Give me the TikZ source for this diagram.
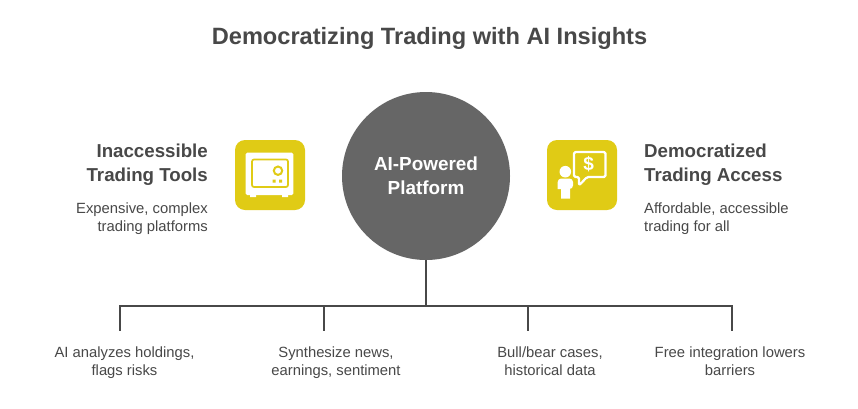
\documentclass[tikz,border=0pt]{standalone}
\usepackage{fontspec}
\setmainfont{Liberation Sans}
\definecolor{ink}{HTML}{484848}
\definecolor{hub}{HTML}{666666}
\definecolor{gold}{HTML}{E0CB15}
\tikzset{
  titletext/.style={font=\bfseries\fontsize{23.6}{28}\selectfont,text=ink,inner sep=0pt},
  headtext/.style={font=\bfseries\fontsize{18.7}{24}\selectfont,text=ink,inner sep=0pt},
  bodytext/.style={font=\fontsize{14.8}{18}\selectfont,text=ink,inner sep=0pt},
  hubnode/.style={circle,fill=hub,minimum size=168pt,inner sep=0pt},
  hubtext/.style={inner sep=0pt,text=white,align=center,font=\bfseries\fontsize{18.9}{24}\selectfont},
  iconbox/.style={rounded corners=10pt,fill=gold,minimum size=70pt,inner sep=0pt},
  wire/.style={draw=ink,line width=2.2pt},
}
\begin{document}
\begin{tikzpicture}[x=1pt,y=-1pt]
\useasboundingbox (0,0) rectangle (858,408);
\fill[white] (0,0) rectangle (858,408);
\node[titletext] (title) at (429.5,38.5) {\strut Democratizing Trading with AI Insights};
\node[hubnode] (hub) at (426,176) {};
\node[hubtext] (hublabel) at (426,178) {\strut AI-Powered\\\strut Platform};
\node[iconbox] (safe) at (270,175) {};
\node[iconbox] (chat) at (582,175) {};
% left
\node[headtext,align=right,anchor=east] (lh) at (208,165) {\strut Inaccessible\\\strut Trading Tools};
\node[bodytext,align=right,anchor=east] (lb) at (208,219) {\strut Expensive, complex\\\strut trading platforms};
% right
\node[headtext,align=left,anchor=west] (rh) at (644,165) {\strut Democratized\\\strut Trading Access};
\node[bodytext,align=left,anchor=west] (rb) at (644,219) {\strut Affordable, accessible\\\strut trading for all};
% bottom
\node[bodytext,align=center] (b1) at (124.5,363) {\strut AI analyzes holdings,\\\strut flags risks};
\node[bodytext,align=center] (b2) at (336,363) {\strut Synthesize news,\\\strut earnings, sentiment};
\node[bodytext,align=center] (b3) at (550,363) {\strut Bull/bear cases,\\\strut historical data};
\node[bodytext,align=center] (b4) at (730,363) {\strut Free integration lowers\\\strut barriers};
% connectors
\coordinate (j0) at (426,306);
\coordinate (j1) at (120,306);
\coordinate (j2) at (324,306);
\coordinate (j3) at (528,306);
\coordinate (j4) at (732,306);
\coordinate (e1) at (120,331);
\coordinate (e2) at (324,331);
\coordinate (e3) at (528,331);
\coordinate (e4) at (732,331);
\draw[wire] (hub.south) -- (j0);
\draw[wire,line cap=rect] (j1) -- (j4);
\draw[wire] (j1) -- (e1);
\draw[wire] (j2) -- (e2);
\draw[wire] (j3) -- (e3);
\draw[wire] (j4) -- (e4);
% safe icon
\fill[white,rounded corners=1.5pt] (245.7,152.7) rectangle (293.3,195);
\fill[white] (250,194) rectangle (256,197) (282,194) rectangle (288,197);
\draw[gold,line width=1.7pt,rounded corners=2pt] (252,159.5) rectangle (288,187);
\draw[gold,line width=2pt] (278,170.7) circle (4.2pt);
\fill[gold] (272.5,179.5) rectangle (275.7,182.5) (279,179.5) rectangle (282.2,182.5);
% chat icon
\draw[white,line width=2.2pt,rounded corners=1.5pt,line join=round]
  (574,152) -- (605.5,152) -- (605.5,177) -- (587,177) -- (579,185.5) -- (579,177) -- (574,177) -- cycle;
\node[font=\bfseries\fontsize{19}{19}\selectfont,text=white,inner sep=0pt] (dollar) at (588.7,164.5) {\$};
\fill[white] (565.3,171.7) circle (5.8pt);
\fill[white,rounded corners=3.5pt] (557.7,189) -- (557.7,178.5) -- (573,178.5) -- (573,189) [sharp corners] -- (570,189) -- (570,198.5) -- (561,198.5) -- (561,189) -- cycle;
\end{tikzpicture}
\end{document}
